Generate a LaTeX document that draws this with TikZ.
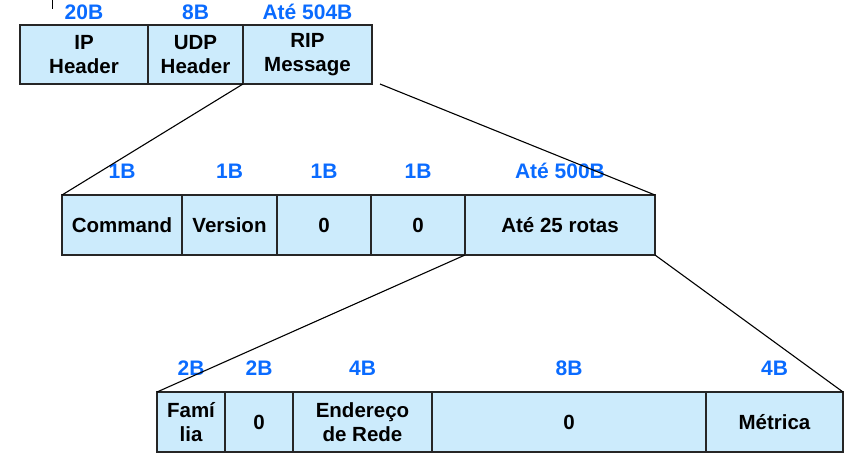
\documentclass[tikz,border=0pt]{standalone}
\usepackage{fontspec}
\setmainfont{Liberation Sans}
\usetikzlibrary{positioning}
\definecolor{cellfill}{HTML}{CCEBFC}
\definecolor{sizeblue}{HTML}{0A6BFF}

\begin{document}
\begin{tikzpicture}[
  x=1pt, y=-1pt,
  every node/.style={align=center, font=\fontsize{20.5}{23.5}\selectfont\bfseries},
  field/.style={rectangle, draw=black!85, line width=1.3pt, fill=cellfill, outer sep=0pt, minimum height=59pt, inner sep=1pt},
  sizelbl/.style={text=sizeblue, inner sep=0pt, font=\fontsize{21}{24}\selectfont\bfseries},
  zoomline/.style={line width=1.1pt, black}
]
\useasboundingbox (0,0) rectangle (864,467);

% --- TOP ROW (datagram) ---
\node[field, minimum width=128pt, anchor=north west] (ip) at (20,25) {IP\\Header};
\node[field, minimum width=95pt, right=0pt of ip] (udp) {UDP\\Header};
\node[field, minimum width=129pt, right=0pt of udp] (rip) {RIP\\Message};

\node[sizelbl, above=5pt of ip] (ipB) {20B};
\node[sizelbl, above=5pt of udp] (udpB) {8B};
\node[sizelbl, above=5pt of rip] (ripB) {Até 504B};

% --- MIDDLE ROW (RIP message) ---
\node[field, minimum width=120pt, minimum height=60pt, anchor=north west] (cmd) at (62,195) {Command};
\node[field, minimum width=95pt, minimum height=60pt, right=0pt of cmd] (ver) {Version};
\node[field, minimum width=94pt, minimum height=60pt, right=0pt of ver] (zeroA) {0};
\node[field, minimum width=94pt, minimum height=60pt, right=0pt of zeroA] (zeroB) {0};
\node[field, minimum width=190pt, minimum height=60pt, right=0pt of zeroB] (rotas) {Até 25 rotas};

\node[sizelbl, above=16pt of cmd] (cmdB) {1B};
\node[sizelbl, above=16pt of ver] (verB) {1B};
\node[sizelbl, above=16pt of zeroA] (zeroAB) {1B};
\node[sizelbl, above=16pt of zeroB] (zeroBB) {1B};
\node[sizelbl, above=16pt of rotas] (rotasB) {Até 500B};

% --- BOTTOM ROW (route entry) ---
\node[field, minimum width=68pt, minimum height=60pt, anchor=north west] (fam) at (157,392) {Famí\\lia};
\node[field, minimum width=68pt, minimum height=60pt, right=0pt of fam] (zeroC) {0};
\node[field, minimum width=139pt, minimum height=60pt, right=0pt of zeroC] (addr) {Endereço\\de Rede};
\node[field, minimum width=274pt, minimum height=60pt, right=0pt of addr] (zeroD) {0};
\node[field, minimum width=137pt, minimum height=60pt, right=0pt of zeroD] (metrica) {Métrica};

\node[sizelbl, above=16pt of fam] (famB) {2B};
\node[sizelbl, above=16pt of zeroC] (zeroCB) {2B};
\node[sizelbl, above=16pt of addr] (addrB) {4B};
\node[sizelbl, above=16pt of zeroD] (zeroDB) {8B};
\node[sizelbl, above=16pt of metrica] (metricaB) {4B};

% --- EXPANSION LINES ---
\draw[zoomline] (rip.south west) -- (cmd.north west);
\draw[zoomline] ([xshift=8pt]rip.south east) -- (rotas.north east);
\draw[zoomline] (rotas.south west) -- (fam.north west);
\draw[zoomline] (rotas.south east) -- (metrica.north east);

% stray tick at the top
\draw[line width=0.8pt] (52,0) -- (52,9);

\end{tikzpicture}
\end{document}
